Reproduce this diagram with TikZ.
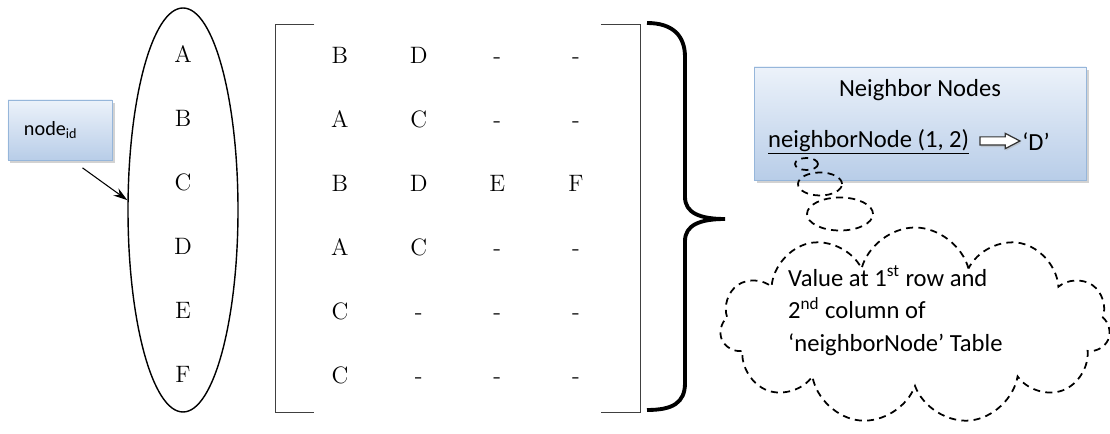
\documentclass[tikz,border=0pt]{standalone}
\usepackage{fontspec}
\newfontfamily\calib{Carlito}
\usepackage{tikz}
\usetikzlibrary{arrows.meta, positioning, shapes.geometric, shapes.symbols, shapes.arrows, matrix, shadows}
\definecolor{boxtop}{RGB}{236,242,250}
\definecolor{boxbottom}{RGB}{184,205,232}
\definecolor{boxline}{RGB}{150,182,218}

\begin{document}
\begin{tikzpicture}
    \useasboundingbox (0,0) rectangle (22.2,8.66);

    % Define styles
    \tikzstyle{bluebox} = [rectangle, draw=boxline, top color=boxtop, bottom color=boxbottom, drop shadow={shadow xshift=0.05cm, shadow yshift=-0.06cm, fill=black!35}]
    \tikzstyle{cell} = [minimum width=1.574cm, minimum height=1.28cm, inner sep=0pt, text height=1.6ex, text depth=0.3ex, font=\fontsize{13.5}{16}\selectfont]
    \tikzstyle{calibtext} = [font=\calib\fontsize{14}{18.7}\selectfont]
    \tikzstyle{bubble} = [ellipse, draw, line width=1pt, dash pattern=on 4pt off 3pt, inner sep=0pt]
    \tikzstyle{bracket} = [draw=black!75, line width=0.8pt]

    % Node ids inside the ellipse
    \node[ellipse, draw, line width=0.8pt, minimum width=2.2cm, minimum height=8.08cm] (idring) at (3.66,4.46) {};
    \matrix[matrix of nodes, nodes={cell}] (idcol) at (3.66,4.30) {
        A \\ B \\ C \\ D \\ E \\ F \\
    };

    % Node id label
    \node[bluebox, minimum height=1.2cm, text width=1.44cm, inner xsep=0.32cm, align=left, font=\calib\fontsize{11.5}{13}\selectfont] (idbox) at (1.2,6.06) {node\textsubscript{id}};
    \draw[-{Stealth[length=8pt,width=5pt]}, line width=0.6pt] ([xshift=0.45cm,yshift=-0.15cm]idbox.south) -- (idring.170);

    % Neighbor table
    \matrix[matrix of nodes, nodes={cell}, inner xsep=0.5cm, inner ysep=0.03cm] (adj) at (9.16,4.29) {
        B & D & - & - \\
        A & C & - & - \\
        B & D & E & F \\
        A & C & - & - \\
        C & - & - & - \\
        C & - & - & - \\
    };
    \draw[bracket] ([xshift=0.78cm]adj.north west) -- (adj.north west) -- (adj.south west) -- ([xshift=0.78cm]adj.south west);
    \draw[bracket] ([xshift=-0.8cm]adj.north east) -- (adj.north east) -- (adj.south east) -- ([xshift=-0.8cm]adj.south east);

    % Curly brace
    \draw[line width=2.2pt] (12.94,8.2) .. controls (13.45,8.2) and (13.7,7.95) .. (13.7,7.52) -- (13.7,4.72)
        .. controls (13.7,4.4) and (14.0,4.28) .. (14.5,4.28)
        .. controls (14.0,4.28) and (13.7,4.16) .. (13.7,3.84) -- (13.7,1.0)
        .. controls (13.7,0.6) and (13.45,0.46) .. (12.94,0.46);

    % Neighbor Nodes box
    \node[bluebox, minimum width=6.64cm, minimum height=2.26cm] (nbrbox) at (18.4,6.19) {};
    \node[calibtext] (nbrtitle) at (18.4,6.86) {Neighbor Nodes};
    \node[calibtext, anchor=west] (nbrcall) at (15.24,5.82) {\underline{neighborNode (1, 2)}};
    \node[single arrow, draw=black!80, fill=white, line width=0.7pt, inner xsep=0pt, inner ysep=0.07cm, minimum height=0.8cm, single arrow head extend=0.07cm, single arrow tip angle=55, drop shadow={shadow xshift=0.02cm, shadow yshift=-0.04cm, fill=black!30}] (nbrarrow) at (19.92,5.84) {};
    \node[calibtext] (nbrval) at (20.72,5.82) {‘D’};

    % Thought bubbles and cloud
    \node[bubble, minimum width=0.46cm, minimum height=0.24cm] (bub1) at (16.13,5.38) {};
    \node[bubble, minimum width=0.88cm, minimum height=0.46cm] (bub2) at (16.4,4.98) {};
    \node[bubble, minimum width=1.32cm, minimum height=0.66cm] (bub3) at (16.8,4.38) {};
    \node[cloud, draw, line width=1pt, dash pattern=on 4pt off 3pt, cloud puffs=11, minimum width=7.8cm, minimum height=3.94cm] (note) at (18.3,2.14) {};
    \node[calibtext, anchor=west, align=left] (notetext) at (15.64,2.44) {Value at 1\textsuperscript{st} row and\\2\textsuperscript{nd} column of\\‘neighborNode’ Table};

\end{tikzpicture}
\end{document}
